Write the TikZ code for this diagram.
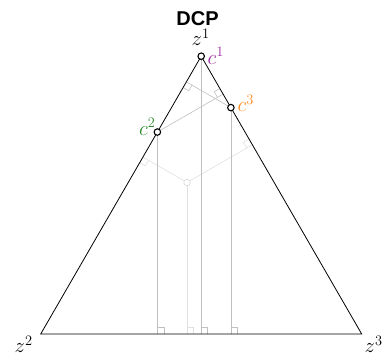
\documentclass[tikz,border=0pt]{standalone}
\usepackage{fontspec}
\newfontfamily\titlefont{Liberation Sans}
\usetikzlibrary{calc}
\definecolor{cpurple}{HTML}{9B2FA0}
\definecolor{cgreen}{HTML}{2E8B2E}
\definecolor{corange}{HTML}{FF8A1C}
\newcommand{\ramk}[4][]{%
  \coordinate (ra) at ($(#2)!6.5pt!(#3)$);
  \coordinate (rb) at ($(#2)!6.5pt!(#4)$);
  \draw[#1] (ra) -- ($(ra)+(rb)-(#2)$) -- (rb);
}
\begin{document}
\begin{tikzpicture}[x=1pt,y=-1pt,
  edge/.style={black,line width=0.8pt},
  proj/.style={black!25,line width=0.6pt},
  lproj/.style={black!12,line width=0.6pt},
  pt/.style={circle,draw=black,fill=white,line width=1.1pt,inner sep=0pt,minimum size=6.5pt},
  lpt/.style={circle,draw=black!15,fill=white,line width=0.6pt,inner sep=0pt,minimum size=6.5pt},
  lab/.style={inner sep=0pt,font=\huge}]
\useasboundingbox (0,0) rectangle (388,359);
\coordinate (z1) at (201.2,56.2);
\coordinate (z2) at (40.7,334);
\coordinate (z3) at (361.7,334);
\coordinate (c1) at (z1);
\coordinate (c2) at ($(z1)!0.273!(z2)$);
\coordinate (c3) at ($(z1)!0.185!(z3)$);
\coordinate (p) at (187,182.5);
% feet
\coordinate (f1b) at ($(z2)!(c1)!(z3)$);
\coordinate (f2b) at ($(z2)!(c2)!(z3)$);
\coordinate (f3b) at ($(z2)!(c3)!(z3)$);
\coordinate (fpb) at ($(z2)!(p)!(z3)$);
\coordinate (f2r) at ($(z3)!(c2)!(z1)$);
\coordinate (f3l) at ($(z1)!(c3)!(z2)$);
\coordinate (fpl) at ($(z1)!(p)!(z2)$);
\coordinate (fpr) at ($(z3)!(p)!(z1)$);
% light projections of p
\draw[lproj] (p) -- (fpb);
\draw[lproj] (p) -- (fpl);
\draw[lproj] (p) -- (fpr);
\ramk[lproj]{fpb}{p}{z3}
\ramk[lproj]{fpl}{p}{z2}
\ramk[lproj]{fpr}{p}{z1}
% projections of c points
\draw[proj] (c1) -- (f1b);
\draw[proj] (c2) -- (f2b);
\draw[proj] (c3) -- (f3b);
\draw[proj] (c2) -- (f2r);
\draw[proj] (c3) -- (f3l);
\ramk[proj]{f1b}{c1}{z3}
\ramk[proj]{f2b}{c2}{z3}
\ramk[proj]{f3b}{c3}{z3}
\ramk[proj]{f2r}{c2}{z1}
\ramk[proj]{f3l}{c3}{z2}
% triangle
\draw[edge] (z1) -- (z2) -- (z3) -- cycle;
% points
\node[lpt] (pn) at (p) {};
\node[pt] (c1n) at (c1) {};
\node[pt] (c2n) at (c2) {};
\node[pt] (c3n) at (c3) {};
% labels
\node[anchor=base,inner sep=0pt,font=\titlefont\bfseries\fontsize{20}{22}\selectfont] (title) at (197.5,25) {DCP};
\node[lab,anchor=base west] (lz1) at (191.5,45.7) {$z^1$};
\node[lab,anchor=base west] (lz2) at (14.5,352.7) {$z^2$};
\node[lab,anchor=base west] (lz3) at (364.5,352.7) {$z^3$};
\node[lab,anchor=base west,text=cpurple] (lc1) at (207.5,64.2) {$c^1$};
\node[lab,anchor=base west,text=corange] (lc3) at (237.5,111.7) {$c^3$};
\node[lab,anchor=base east,text=cgreen] (lc2) at (155.5,135.5) {$c^2$};
\end{tikzpicture}
\end{document}
